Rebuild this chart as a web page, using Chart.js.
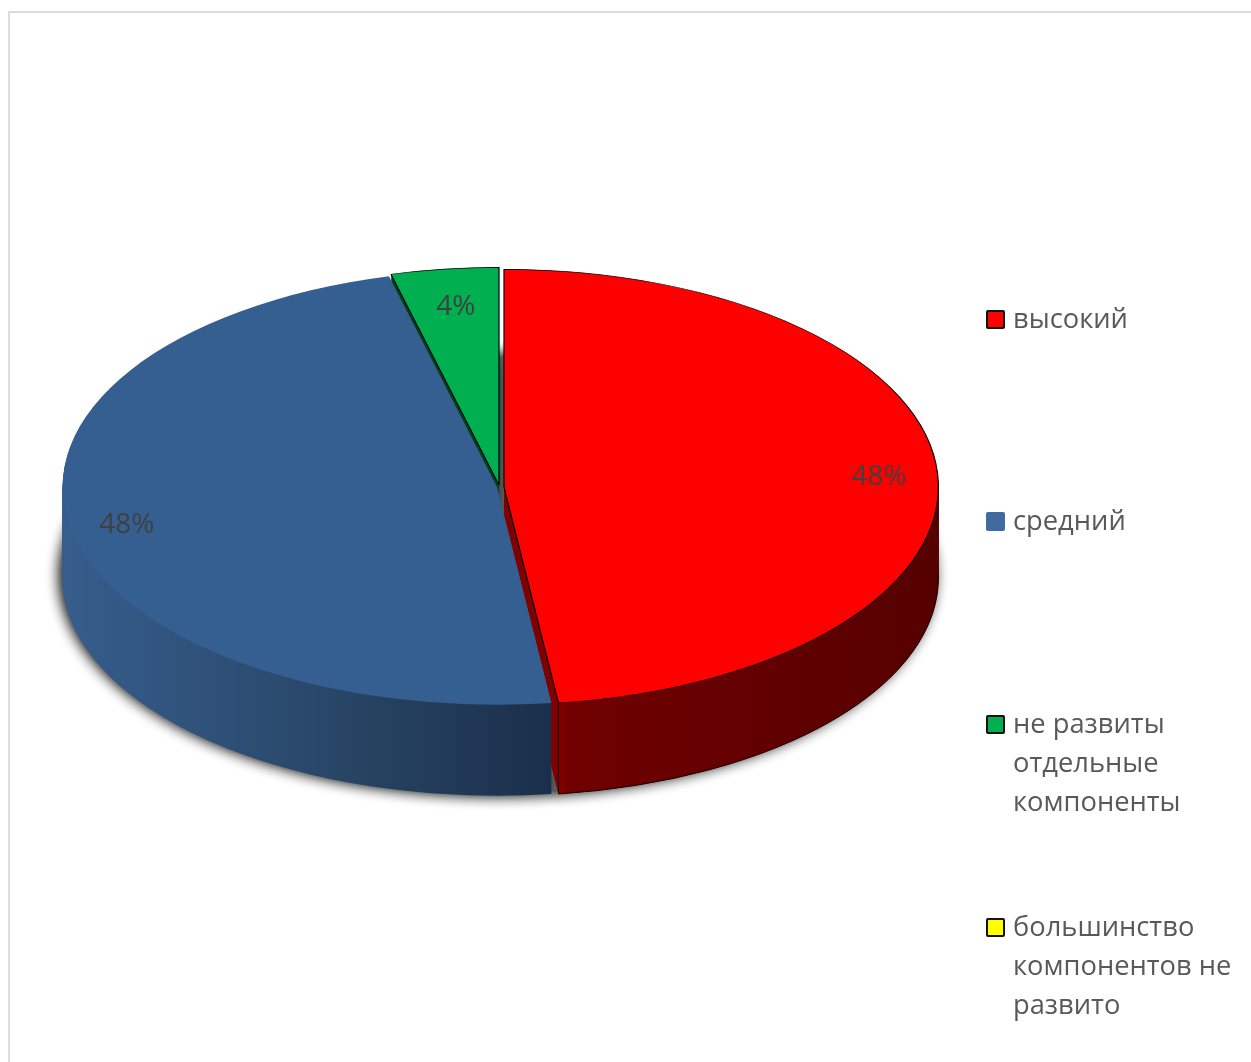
<!DOCTYPE html>
<html lang="ru">
<head>
<meta charset="utf-8">
<title>Диаграмма</title>
<script src="https://cdn.jsdelivr.net/npm/chart.js@4"></script>
<style>
  html, body { margin: 0; padding: 0; background: #fff; width: 1251px; height: 1062px; overflow: hidden; }
  #wrap { position: relative; width: 1251px; height: 1062px; overflow: hidden; }
  #frame { position: absolute; left: 8px; top: 11px; width: 1300px; height: 1100px; border: 2px solid #dcdcdc; box-sizing: border-box; }
  canvas { position: absolute; left: 0; top: 0; }
  .item { position: absolute; left: 1013px; width: 228px; font: 27.3px/39px "Open Sans", sans-serif; color: #595959; }
  .sw { position: absolute; left: -27px; top: 12px; width: 19px; height: 19px; box-sizing: border-box; border-radius: 2px; }
</style>
</head>
<body>
<div id="wrap">
  <div id="frame"></div>
  <canvas id="c" width="1251" height="1062"></canvas>
</div>
<script>
const categories = ["высокий", "средний", "не развиты отдельные компоненты", "большинство компонентов не развито"];
const values = [48, 48, 4, 0];
const topColors = ["#ff0000", "#365f91", "#00b050", "#ffff00"];
const legendColors = ["#ff0000", "#416ba0", "#00b050", "#ffff00"];
const legendBorders = ["#111111", "none", "#111111", "#111111"];
const legendY = [319, 521, 724, 927];
const explodeX = [7, 0, 2, 0];
const explodeY = [0, 0, -2, 0];
const labelRadius = [0.865, 0.865, 0.83, 0.865];
const labelShiftX = [0, -1, 2, 0];
const labelShiftY = [2, 3, 1, 0];

const TILT = 0.501;
const DEPTH = 91;

const legendRoot = document.getElementById("wrap");
categories.forEach((name, i) => {
  const d = document.createElement("div");
  d.className = "item";
  d.style.top = (legendY[i] - 21.5) + "px";
  d.textContent = name;
  const s = document.createElement("span");
  s.className = "sw";
  s.style.background = legendColors[i];
  s.style.border = legendBorders[i] === "none" ? "none" : "2px solid " + legendBorders[i];
  d.appendChild(s);
  legendRoot.appendChild(d);
});

function wallColors(ctx) {
  const red = ctx.createLinearGradient(500, 0, 940, 0);
  red.addColorStop(0, "#800000");
  red.addColorStop(0.13, "#800000");
  red.addColorStop(0.135, "#700000");
  red.addColorStop(1, "#550000");
  const blue = ctx.createLinearGradient(62, 0, 557, 0);
  blue.addColorStop(0, "#365d8c");
  blue.addColorStop(0.3, "#2f5179");
  blue.addColorStop(0.65, "#25415f");
  blue.addColorStop(1, "#1a2e4b");
  return [red, blue, "#004020", "#808000"];
}

function drawArc(ctx, arc, i, dy, override) {
  const cy = arc.y;
  const original = arc.options;
  ctx.save();
  ctx.translate(override.noExplode ? 0 : explodeX[i], dy + cy + (override.noExplode ? 0 : explodeY[i]));
  ctx.scale(1, TILT);
  ctx.translate(0, -cy);
  arc.options = Object.assign({}, original, override.opts);
  arc.draw(ctx);
  arc.options = original;
  ctx.restore();
}

const pie3d = {
  id: "pie3d",
  beforeDatasetsDraw(chart) {
    const ctx = chart.ctx;
    const arcs = chart.getDatasetMeta(0).data;
    const walls = wallColors(ctx);

    // cast shadow below the disc
    ctx.save();
    ctx.shadowColor = "rgba(20,20,20,1)";
    ctx.shadowBlur = 16;
    for (let pass = 0; pass < 2; pass++) {
      arcs.forEach((a, i) => drawArc(ctx, a, i, DEPTH - 3, {
        noExplode: true,
        opts: { backgroundColor: "#6a6a6a", borderWidth: 0 }
      }));
    }
    ctx.restore();

    // side walls: back slices first
    [2, 0, 1].forEach(i => {
      for (let dy = DEPTH; dy >= 1; dy--) {
        drawArc(ctx, arcs[i], i, dy, { opts: { backgroundColor: walls[i], borderWidth: 0 } });
      }
    });

    // thin outline of the red wall
    const r = arcs[0];
    const rx = r.x + explodeX[0];
    ctx.save();
    ctx.strokeStyle = "#1a0000";
    ctx.lineWidth = 1;
    ctx.beginPath();
    ctx.ellipse(rx, r.y + DEPTH, r.outerRadius, r.outerRadius * TILT, 0, -0.02, r.endAngle);
    ctx.stroke();
    const cx = rx + Math.cos(r.endAngle) * r.outerRadius;
    const sy = r.y + Math.sin(r.endAngle) * r.outerRadius * TILT;
    ctx.beginPath();
    ctx.moveTo(cx, sy);
    ctx.lineTo(cx, sy + DEPTH);
    ctx.stroke();
    ctx.restore();

    // top faces
    [1, 2, 0].forEach(i => {
      drawArc(ctx, arcs[i], i, 0, { opts: {} });
    });

    // percentage labels
    ctx.save();
    ctx.font = '28px "Open Sans", sans-serif';
    ctx.fillStyle = "#404040";
    ctx.textAlign = "center";
    ctx.textBaseline = "middle";
    arcs.forEach((a, i) => {
      if (!values[i]) return;
      const mid = (a.startAngle + a.endAngle) / 2;
      const rr = a.outerRadius * labelRadius[i];
      const x = a.x + explodeX[i] + Math.cos(mid) * rr + labelShiftX[i];
      const y = a.y + explodeY[i] + Math.sin(mid) * rr * TILT + labelShiftY[i];
      ctx.fillText(values[i] + "%", x, y);
    });
    ctx.restore();
    return false;
  }
};

new Chart(document.getElementById("c"), {
  type: "pie",
  data: {
    labels: categories,
    datasets: [{
      data: values,
      backgroundColor: topColors,
      borderColor: ["#000000", "#365f91", "#000000", "#000000"],
      borderWidth: [1.2, 0, 1.2, 0]
    }]
  },
  options: {
    responsive: false,
    animation: false,
    devicePixelRatio: 1,
    layout: { padding: { left: 62, right: 319, top: 52, bottom: 140 } },
    plugins: { legend: { display: false }, tooltip: { enabled: false } }
  },
  plugins: [pie3d]
});
</script>
</body>
</html>
